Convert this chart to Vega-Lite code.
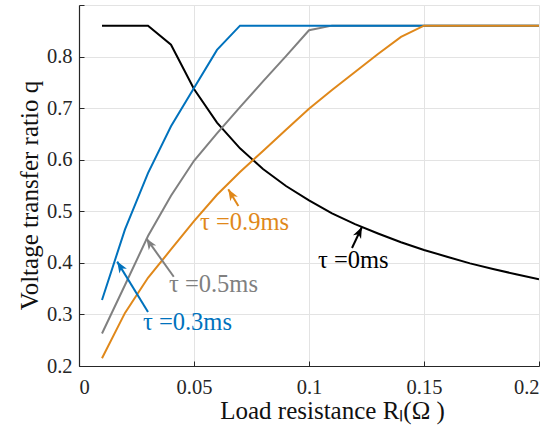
{
  "$schema": "https://vega.github.io/schema/vega-lite/v6.json",
  "width": 460,
  "height": 361,
  "autosize": "none",
  "padding": {"left": 79, "top": 5, "right": 13, "bottom": 62},
  "background": "white",
  "config": {
    "view": {"stroke": null},
    "font": "Liberation Serif",
    "axis": {
      "labelFont": "Liberation Serif",
      "titleFont": "Liberation Serif",
      "labelFontSize": 20.5,
      "titleFontSize": 25,
      "titleFontWeight": "normal",
      "labelColor": "#262626",
      "titleColor": "#111111",
      "domainColor": "#262626",
      "tickColor": "#262626",
      "gridColor": "#e3e3e3",
      "gridWidth": 1,
      "domainWidth": 1.2,
      "tickSize": -5
    }
  },
  "datasets": {
    "curves": [
      {"s": "0ms", "R": 0.01, "q": 0.86},
      {"s": "0ms", "R": 0.02, "q": 0.86},
      {"s": "0ms", "R": 0.03, "q": 0.86},
      {"s": "0ms", "R": 0.04, "q": 0.823},
      {"s": "0ms", "R": 0.05, "q": 0.737},
      {"s": "0ms", "R": 0.06, "q": 0.672},
      {"s": "0ms", "R": 0.07, "q": 0.622},
      {"s": "0ms", "R": 0.08, "q": 0.582},
      {"s": "0ms", "R": 0.09, "q": 0.549},
      {"s": "0ms", "R": 0.10, "q": 0.521},
      {"s": "0ms", "R": 0.11, "q": 0.496},
      {"s": "0ms", "R": 0.12, "q": 0.475},
      {"s": "0ms", "R": 0.13, "q": 0.457},
      {"s": "0ms", "R": 0.14, "q": 0.440},
      {"s": "0ms", "R": 0.15, "q": 0.425},
      {"s": "0ms", "R": 0.16, "q": 0.412},
      {"s": "0ms", "R": 0.17, "q": 0.399},
      {"s": "0ms", "R": 0.18, "q": 0.388},
      {"s": "0ms", "R": 0.19, "q": 0.378},
      {"s": "0ms", "R": 0.20, "q": 0.368},
      {"s": "0.5ms", "R": 0.01, "q": 0.263},
      {"s": "0.5ms", "R": 0.02, "q": 0.357},
      {"s": "0.5ms", "R": 0.03, "q": 0.452},
      {"s": "0.5ms", "R": 0.04, "q": 0.530},
      {"s": "0.5ms", "R": 0.05, "q": 0.598},
      {"s": "0.5ms", "R": 0.06, "q": 0.651},
      {"s": "0.5ms", "R": 0.07, "q": 0.702},
      {"s": "0.5ms", "R": 0.08, "q": 0.752},
      {"s": "0.5ms", "R": 0.09, "q": 0.801},
      {"s": "0.5ms", "R": 0.10, "q": 0.851},
      {"s": "0.5ms", "R": 0.11, "q": 0.86},
      {"s": "0.5ms", "R": 0.15, "q": 0.86},
      {"s": "0.5ms", "R": 0.20, "q": 0.86},
      {"s": "0.3ms", "R": 0.01, "q": 0.328},
      {"s": "0.3ms", "R": 0.02, "q": 0.465},
      {"s": "0.3ms", "R": 0.03, "q": 0.574},
      {"s": "0.3ms", "R": 0.04, "q": 0.665},
      {"s": "0.3ms", "R": 0.05, "q": 0.739},
      {"s": "0.3ms", "R": 0.06, "q": 0.813},
      {"s": "0.3ms", "R": 0.07, "q": 0.86},
      {"s": "0.3ms", "R": 0.10, "q": 0.86},
      {"s": "0.3ms", "R": 0.15, "q": 0.86},
      {"s": "0.3ms", "R": 0.20, "q": 0.86},
      {"s": "0.9ms", "R": 0.01, "q": 0.215},
      {"s": "0.9ms", "R": 0.02, "q": 0.303},
      {"s": "0.9ms", "R": 0.03, "q": 0.371},
      {"s": "0.9ms", "R": 0.04, "q": 0.426},
      {"s": "0.9ms", "R": 0.05, "q": 0.481},
      {"s": "0.9ms", "R": 0.06, "q": 0.532},
      {"s": "0.9ms", "R": 0.07, "q": 0.576},
      {"s": "0.9ms", "R": 0.08, "q": 0.617},
      {"s": "0.9ms", "R": 0.09, "q": 0.658},
      {"s": "0.9ms", "R": 0.10, "q": 0.699},
      {"s": "0.9ms", "R": 0.11, "q": 0.735},
      {"s": "0.9ms", "R": 0.12, "q": 0.770},
      {"s": "0.9ms", "R": 0.13, "q": 0.805},
      {"s": "0.9ms", "R": 0.14, "q": 0.838},
      {"s": "0.9ms", "R": 0.15, "q": 0.86},
      {"s": "0.9ms", "R": 0.20, "q": 0.86}
    ],
    "notes": [
      {"s": "0ms", "label": "τ =0ms", "tx": 0.1039, "ty": 0.3894, "x1": 0.1187, "y1": 0.4288, "x2": 0.1230, "y2": 0.4695},
      {"s": "0.5ms", "label": "τ =0.5ms", "tx": 0.0391, "ty": 0.3435, "x1": 0.0412, "y1": 0.3730, "x2": 0.0293, "y2": 0.4474},
      {"s": "0.3ms", "label": "τ =0.3ms", "tx": 0.0278, "ty": 0.2698, "x1": 0.0300, "y1": 0.3047, "x2": 0.0166, "y2": 0.4024},
      {"s": "0.9ms", "label": "τ =0.9ms", "tx": 0.0526, "ty": 0.4637, "x1": 0.0693, "y1": 0.5102, "x2": 0.0649, "y2": 0.5426}
    ]
  },
  "encoding": {
    "x": {
      "type": "quantitative",
      "scale": {"domain": [0, 0.2], "nice": false, "zero": false},
      "axis": {
        "title": "Load resistance Rₗ(Ω )",
        "values": [0, 0.05, 0.1, 0.15, 0.2],
        "format": "~g",
        "labelFont": "Liberation Serif",
        "titleFont": "Liberation Serif",
        "labelPadding": 16,
        "titleX": 253,
        "titleY": 52,
        "titleBaseline": "alphabetic",
        "grid": true
      }
    },
    "y": {
      "type": "quantitative",
      "scale": {"domain": [0.2, 0.9], "nice": false, "zero": false},
      "axis": {
        "title": "Voltage transfer ratio q",
        "values": [0.2, 0.3, 0.4, 0.5, 0.6, 0.7, 0.8, 0.9],
        "format": "~g",
        "labelFont": "Liberation Serif",
        "titleFont": "Liberation Serif",
        "labelExpr": "datum.value > 0.85 ? '' : datum.label",
        "labelPadding": 12,
        "titleX": -42,
        "titleY": 190,
        "titleBaseline": "alphabetic",
        "grid": true
      }
    },
    "color": {
      "field": "s",
      "type": "nominal",
      "scale": {
        "domain": ["0ms", "0.5ms", "0.3ms", "0.9ms"],
        "range": ["#000000", "#808080", "#0072BD", "#E0881A"]
      },
      "legend": null
    }
  },
  "layer": [
    {
      "data": {"name": "curves"},
      "mark": {"type": "line", "strokeWidth": 2, "clip": true},
      "encoding": {
        "x": {"field": "R"},
        "y": {"field": "q"}
      }
    },
    {
      "data": {"name": "notes"},
      "mark": {"type": "rule", "strokeWidth": 2},
      "encoding": {
        "x": {"field": "x1"},
        "y": {"field": "y1"},
        "x2": {"field": "x2"},
        "y2": {"field": "y2"}
      }
    },
    {
      "data": {"name": "notes"},
      "transform": [{"filter": "datum.s == '0ms'"}],
      "mark": {"type": "point", "filled": true, "opacity": 1, "shape": "M0,0 L0.55,1.4 L0,1 L-0.55,1.4 Z", "size": 260, "angle": 25.5},
      "encoding": {"x": {"field": "x2"}, "y": {"field": "y2"}}
    },
    {
      "data": {"name": "notes"},
      "transform": [{"filter": "datum.s == '0.5ms'"}],
      "mark": {"type": "point", "filled": true, "opacity": 1, "shape": "M0,0 L0.55,1.4 L0,1 L-0.55,1.4 Z", "size": 260, "angle": -33},
      "encoding": {"x": {"field": "x2"}, "y": {"field": "y2"}}
    },
    {
      "data": {"name": "notes"},
      "transform": [{"filter": "datum.s == '0.3ms'"}],
      "mark": {"type": "point", "filled": true, "opacity": 1, "shape": "M0,0 L0.55,1.4 L0,1 L-0.55,1.4 Z", "size": 260, "angle": -32},
      "encoding": {"x": {"field": "x2"}, "y": {"field": "y2"}}
    },
    {
      "data": {"name": "notes"},
      "transform": [{"filter": "datum.s == '0.9ms'"}],
      "mark": {"type": "point", "filled": true, "opacity": 1, "shape": "M0,0 L0.55,1.4 L0,1 L-0.55,1.4 Z", "size": 260, "angle": -31},
      "encoding": {"x": {"field": "x2"}, "y": {"field": "y2"}}
    },
    {
      "data": {"name": "notes"},
      "mark": {"type": "text", "align": "left", "baseline": "alphabetic", "font": "Liberation Serif", "fontSize": 24.5},
      "encoding": {
        "x": {"field": "tx"},
        "y": {"field": "ty"},
        "text": {"field": "label"}
      }
    }
  ]
}
